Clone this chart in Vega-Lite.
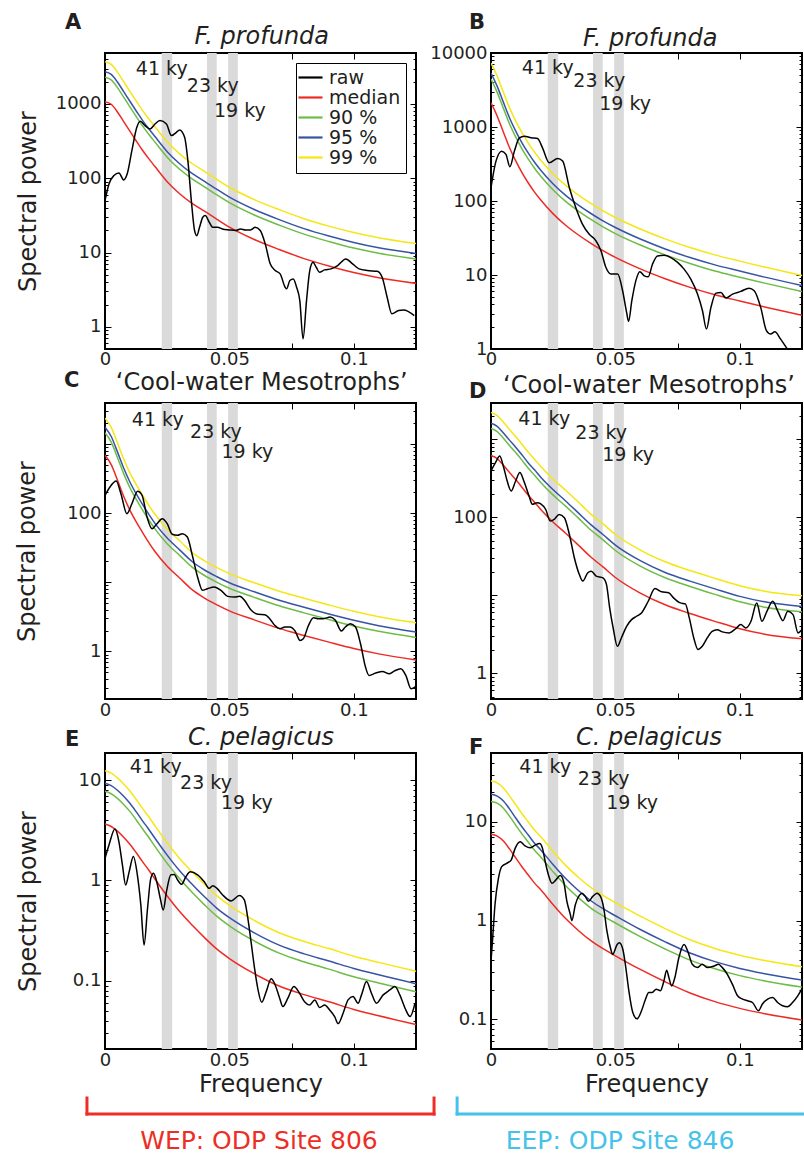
{
"$schema": "https://vega.github.io/schema/vega-lite/v6.json",
"padding": {"left": 14, "top": 11, "right": 0, "bottom": 0},
"config": {
  "font": "DejaVu Sans",
  "view": {"stroke": "black", "strokeWidth": 2},
  "axis": {"labelFont": "DejaVu Sans", "labelFontSize": 18, "labelColor": "#231f20", "titleFont": "DejaVu Sans", "titleFontSize": 24, "titleFontWeight": "normal", "titleColor": "#231f20", "domain": false, "grid": false, "tickColor": "black", "tickWidth": 1, "labelFlush": false, "labelOverlap": false, "format": "~g"},
  "legend": {"labelFont": "DejaVu Sans", "rowPadding": -4, "symbolLimit": 0}
},
"datasets": {
  "bands": [{"start": 0.0228, "end": 0.0270}, {"start": 0.0410, "end": 0.0449}, {"start": 0.0495, "end": 0.0534}],
  "ky": [
    {"panel": "A", "label": "41 ky", "f": 0.0228, "p": 2930}, {"panel": "A", "label": "23 ky", "f": 0.0433, "p": 1770}, {"panel": "A", "label": "19 ky", "f": 0.0542, "p": 805},
    {"panel": "B", "label": "41 ky", "f": 0.0228, "p": 6290}, {"panel": "B", "label": "23 ky", "f": 0.0435, "p": 4150}, {"panel": "B", "label": "19 ky", "f": 0.0539, "p": 2050},
    {"panel": "C", "label": "41 ky", "f": 0.0212, "p": 2190}, {"panel": "C", "label": "23 ky", "f": 0.0446, "p": 1480}, {"panel": "C", "label": "19 ky", "f": 0.0572, "p": 762},
    {"panel": "D", "label": "41 ky", "f": 0.0214, "p": 1800}, {"panel": "D", "label": "23 ky", "f": 0.0443, "p": 1210}, {"panel": "D", "label": "19 ky", "f": 0.0551, "p": 627},
    {"panel": "E", "label": "41 ky", "f": 0.0204, "p": 13.6}, {"panel": "E", "label": "23 ky", "f": 0.0406, "p": 9.27}, {"panel": "E", "label": "19 ky", "f": 0.0570, "p": 5.86},
    {"panel": "F", "label": "41 ky", "f": 0.0218, "p": 35.8}, {"panel": "F", "label": "23 ky", "f": 0.0453, "p": 27.3}, {"panel": "F", "label": "19 ky", "f": 0.0567, "p": 15.5}
  ],
  "A": [
    {"f":0,"median":1075,"90 %":2290,"95 %":2720,"99 %":3698},{"f":0.0025,"median":990,"90 %":2109,"95 %":2505,"99 %":3406},{"f":0.005,"median":780,"90 %":1661,"95 %":1973,"99 %":2683},{"f":0.0075,"median":580,"90 %":1235,"95 %":1467,"99 %":1995},{"f":0.01,"median":430,"90 %":916,"95 %":1088,"99 %":1479},{"f":0.0125,"median":320,"90 %":682,"95 %":810,"99 %":1101},{"f":0.015,"median":240,"90 %":511,"95 %":607,"99 %":826},{"f":0.0175,"median":185,"90 %":394,"95 %":468,"99 %":636},{"f":0.02,"median":145,"90 %":309,"95 %":367,"99 %":499},{"f":0.025,"median":90,"90 %":192,"95 %":228,"99 %":310},{"f":0.03,"median":62,"90 %":132,"95 %":157,"99 %":213},{"f":0.035,"median":46,"90 %":98,"95 %":116,"99 %":158},{"f":0.04,"median":36,"90 %":76.7,"95 %":91.1,"99 %":124},{"f":0.045,"median":28,"90 %":59.6,"95 %":70.8,"99 %":96.3},{"f":0.05,"median":22,"90 %":46.9,"95 %":55.7,"99 %":75.7},{"f":0.06,"median":15,"90 %":32,"95 %":38,"99 %":51.6},{"f":0.07,"median":11,"90 %":23.4,"95 %":27.8,"99 %":37.8},{"f":0.08,"median":8.3,"90 %":17.7,"95 %":21,"99 %":28.6},{"f":0.09,"median":6.6,"90 %":14.1,"95 %":16.7,"99 %":22.7},{"f":0.1,"median":5.4,"90 %":11.5,"95 %":13.7,"99 %":18.6},{"f":0.11,"median":4.6,"90 %":9.8,"95 %":11.6,"99 %":15.8},{"f":0.125,"median":3.85,"90 %":8.2,"95 %":9.74,"99 %":13.2},
    {"f":0,"raw":50.1},{"f":0.0016,"raw":84},{"f":0.0036,"raw":109},{"f":0.0056,"raw":118},{"f":0.0075,"raw":95},{"f":0.0089,"raw":114},{"f":0.0108,"raw":236},{"f":0.0128,"raw":486},{"f":0.0142,"raw":585},{"f":0.0161,"raw":511},{"f":0.0181,"raw":461},{"f":0.0201,"raw":538},{"f":0.0221,"raw":597},{"f":0.0247,"raw":538},{"f":0.0267,"raw":375},{"f":0.0287,"raw":416},{"f":0.03,"raw":447},{"f":0.032,"raw":356},{"f":0.0333,"raw":173},{"f":0.0347,"raw":50.1},{"f":0.036,"raw":19.8},{"f":0.0369,"raw":16.9},{"f":0.038,"raw":21.9},{"f":0.0393,"raw":29.9},{"f":0.0403,"raw":31.5},{"f":0.0419,"raw":25.6},{"f":0.0433,"raw":21.9},{"f":0.0452,"raw":21.9},{"f":0.0472,"raw":20.8},{"f":0.0499,"raw":20.2},{"f":0.0525,"raw":19.8},{"f":0.0545,"raw":20.8},{"f":0.0565,"raw":20.2},{"f":0.0585,"raw":20.2},{"f":0.0604,"raw":21.9},{"f":0.0624,"raw":19.8},{"f":0.0644,"raw":13.1},{"f":0.0664,"raw":7.05},{"f":0.0684,"raw":5.73},{"f":0.0704,"raw":5.17},{"f":0.0724,"raw":3.42},{"f":0.073,"raw":3.25},{"f":0.0743,"raw":4.2},{"f":0.0757,"raw":4.42},{"f":0.077,"raw":3.42},{"f":0.0783,"raw":2.26},{"f":0.0796,"raw":0.69},{"f":0.081,"raw":2.26},{"f":0.0823,"raw":5.73},{"f":0.0836,"raw":7.41},{"f":0.0849,"raw":6.35},{"f":0.0862,"raw":5.43},{"f":0.0882,"raw":5.85},{"f":0.0909,"raw":6.03},{"f":0.0935,"raw":6.68},{"f":0.0968,"raw":8.22},{"f":0.0995,"raw":7.05},{"f":0.1021,"raw":6.03},{"f":0.1054,"raw":5.73},{"f":0.1094,"raw":5.61},{"f":0.1114,"raw":4.66},{"f":0.1134,"raw":2.51},{"f":0.1153,"raw":1.5},{"f":0.118,"raw":1.66},{"f":0.12,"raw":1.69},{"f":0.1243,"raw":1.42}
  ],
  "B": [
    {"f":0,"median":2120,"90 %":4452,"95 %":5364,"99 %":7335},{"f":0.0025,"median":1400,"90 %":2940,"95 %":3542,"99 %":4844},{"f":0.005,"median":850,"90 %":1785,"95 %":2151,"99 %":2941},{"f":0.0075,"median":520,"90 %":1092,"95 %":1316,"99 %":1799},{"f":0.01,"median":345,"90 %":725,"95 %":873,"99 %":1194},{"f":0.0125,"median":240,"90 %":504,"95 %":607,"99 %":830},{"f":0.015,"median":175,"90 %":368,"95 %":443,"99 %":606},{"f":0.0175,"median":132,"90 %":277,"95 %":334,"99 %":457},{"f":0.02,"median":103,"90 %":216,"95 %":261,"99 %":356},{"f":0.025,"median":67,"90 %":141,"95 %":170,"99 %":232},{"f":0.03,"median":47,"90 %":98.7,"95 %":119,"99 %":163},{"f":0.035,"median":35,"90 %":73.5,"95 %":88.6,"99 %":121},{"f":0.04,"median":27,"90 %":56.7,"95 %":68.3,"99 %":93.4},{"f":0.045,"median":21.3,"90 %":44.7,"95 %":53.9,"99 %":73.7},{"f":0.05,"median":17.3,"90 %":36.3,"95 %":43.8,"99 %":59.9},{"f":0.06,"median":12.1,"90 %":25.4,"95 %":30.6,"99 %":41.9},{"f":0.07,"median":8.9,"90 %":18.7,"95 %":22.5,"99 %":30.8},{"f":0.08,"median":6.8,"90 %":14.3,"95 %":17.2,"99 %":23.5},{"f":0.09,"median":5.4,"90 %":11.3,"95 %":13.7,"99 %":18.7},{"f":0.1,"median":4.45,"90 %":9.35,"95 %":11.3,"99 %":15.4},{"f":0.11,"median":3.7,"90 %":7.77,"95 %":9.36,"99 %":12.8},{"f":0.125,"median":2.85,"90 %":5.99,"95 %":7.21,"99 %":9.86},
    {"f":0,"raw":151},{"f":0.002,"raw":346},{"f":0.0043,"raw":472},{"f":0.006,"raw":426},{"f":0.0076,"raw":290},{"f":0.0094,"raw":472},{"f":0.0114,"raw":714},{"f":0.0134,"raw":752},{"f":0.0161,"raw":714},{"f":0.0187,"raw":700},{"f":0.0207,"raw":523},{"f":0.0234,"raw":329},{"f":0.0268,"raw":376},{"f":0.0288,"raw":346},{"f":0.0315,"raw":151},{"f":0.0341,"raw":81.3},{"f":0.0368,"raw":48.4},{"f":0.0395,"raw":35.5},{"f":0.0422,"raw":28.9},{"f":0.0442,"raw":21.2},{"f":0.0462,"raw":12.6},{"f":0.0482,"raw":10.3},{"f":0.0509,"raw":10.3},{"f":0.0529,"raw":6.12},{"f":0.0545,"raw":3.12},{"f":0.0553,"raw":2.36},{"f":0.0566,"raw":4.49},{"f":0.0582,"raw":8.34},{"f":0.0598,"raw":11.1},{"f":0.0616,"raw":9.75},{"f":0.0632,"raw":9.44},{"f":0.0649,"raw":14},{"f":0.0669,"raw":18.1},{"f":0.0696,"raw":18.5},{"f":0.0723,"raw":17.2},{"f":0.075,"raw":14.8},{"f":0.0776,"raw":12},{"f":0.0803,"raw":8.79},{"f":0.083,"raw":5.52},{"f":0.085,"raw":3.29},{"f":0.0866,"raw":1.86},{"f":0.0884,"raw":3.65},{"f":0.0904,"raw":5.69},{"f":0.0924,"raw":5.81},{"f":0.0944,"raw":4.88},{"f":0.0971,"raw":5.52},{"f":0.1004,"raw":6},{"f":0.1037,"raw":6.64},{"f":0.1058,"raw":6.12},{"f":0.1084,"raw":3.65},{"f":0.1107,"raw":1.77},{"f":0.1124,"raw":1.59},{"f":0.1141,"raw":1.71},{"f":0.1164,"raw":1.36},{"f":0.1191,"raw":1},{"f":0.1218,"raw":0.73},{"f":0.125,"raw":0.55}
  ],
  "C": [
    {"f":0,"median":682,"90 %":1446,"95 %":1739,"99 %":2353},{"f":0.0025,"median":500,"90 %":1060,"95 %":1275,"99 %":1725},{"f":0.005,"median":300,"90 %":636,"95 %":765,"99 %":1035},{"f":0.0075,"median":175,"90 %":371,"95 %":446,"99 %":604},{"f":0.01,"median":110,"90 %":233,"95 %":281,"99 %":380},{"f":0.0125,"median":75,"90 %":159,"95 %":191,"99 %":259},{"f":0.015,"median":53,"90 %":112,"95 %":135,"99 %":183},{"f":0.0175,"median":38,"90 %":80.6,"95 %":96.9,"99 %":131},{"f":0.02,"median":28,"90 %":59.4,"95 %":71.4,"99 %":96.6},{"f":0.025,"median":17,"90 %":36,"95 %":43.4,"99 %":58.7},{"f":0.03,"median":11.5,"90 %":24.4,"95 %":29.3,"99 %":39.7},{"f":0.035,"median":7.8,"90 %":16.5,"95 %":19.9,"99 %":26.9},{"f":0.04,"median":5.9,"90 %":12.5,"95 %":15,"99 %":20.4},{"f":0.045,"median":4.7,"90 %":9.96,"95 %":12,"99 %":16.2},{"f":0.05,"median":3.85,"90 %":8.16,"95 %":9.82,"99 %":13.3},{"f":0.06,"median":2.85,"90 %":6.04,"95 %":7.27,"99 %":9.83},{"f":0.07,"median":2.15,"90 %":4.56,"95 %":5.48,"99 %":7.42},{"f":0.08,"median":1.7,"90 %":3.6,"95 %":4.34,"99 %":5.87},{"f":0.09,"median":1.36,"90 %":2.88,"95 %":3.47,"99 %":4.69},{"f":0.1,"median":1.1,"90 %":2.33,"95 %":2.81,"99 %":3.8},{"f":0.11,"median":0.92,"90 %":1.95,"95 %":2.35,"99 %":3.17},{"f":0.125,"median":0.75,"90 %":1.59,"95 %":1.91,"99 %":2.59},
    {"f":0,"raw":180},{"f":0.002,"raw":238},{"f":0.0045,"raw":290},{"f":0.0064,"raw":190},{"f":0.0088,"raw":97.8},{"f":0.0108,"raw":136},{"f":0.0131,"raw":206},{"f":0.0149,"raw":180},{"f":0.0169,"raw":87.5},{"f":0.0189,"raw":59.3},{"f":0.0209,"raw":70.1},{"f":0.023,"raw":82.8},{"f":0.025,"raw":70.1},{"f":0.027,"raw":49.2},{"f":0.0291,"raw":47.6},{"f":0.0311,"raw":50.3},{"f":0.0331,"raw":45},{"f":0.0351,"raw":24.4},{"f":0.0372,"raw":11.9},{"f":0.0392,"raw":7.62},{"f":0.0412,"raw":8.05},{"f":0.0439,"raw":8.51},{"f":0.0466,"raw":7.62},{"f":0.0493,"raw":6.24},{"f":0.052,"raw":6.11},{"f":0.0541,"raw":6.24},{"f":0.0561,"raw":5.46},{"f":0.0588,"raw":3.92},{"f":0.0615,"raw":3.43},{"f":0.0642,"raw":3.39},{"f":0.0662,"raw":2.97},{"f":0.0682,"raw":2.38},{"f":0.0703,"raw":2.13},{"f":0.0723,"raw":2.25},{"f":0.0743,"raw":2.25},{"f":0.0764,"raw":1.97},{"f":0.0784,"raw":1.44},{"f":0.0797,"raw":1.52},{"f":0.0818,"raw":2.38},{"f":0.0838,"raw":3.07},{"f":0.0858,"raw":2.97},{"f":0.0878,"raw":2.97},{"f":0.0905,"raw":3.13},{"f":0.0926,"raw":2.81},{"f":0.095,"raw":1.97},{"f":0.0966,"raw":2.25},{"f":0.0986,"raw":2.51},{"f":0.1007,"raw":2.25},{"f":0.1027,"raw":1.29},{"f":0.1047,"raw":0.593},{"f":0.1061,"raw":0.45},{"f":0.1088,"raw":0.486},{"f":0.1115,"raw":0.514},{"f":0.1142,"raw":0.475},{"f":0.1162,"raw":0.519},{"f":0.1189,"raw":0.561},{"f":0.1209,"raw":0.45},{"f":0.123,"raw":0.288},{"f":0.125,"raw":0.312}
  ],
  "D": [
    {"f":0,"median":615,"90 %":1365,"95 %":1599,"99 %":2189},{"f":0.0025,"median":560,"90 %":1243,"95 %":1456,"99 %":1994},{"f":0.005,"median":460,"90 %":1021,"95 %":1196,"99 %":1638},{"f":0.0075,"median":370,"90 %":821,"95 %":962,"99 %":1317},{"f":0.01,"median":300,"90 %":666,"95 %":780,"99 %":1068},{"f":0.0125,"median":240,"90 %":533,"95 %":624,"99 %":854},{"f":0.015,"median":190,"90 %":422,"95 %":494,"99 %":676},{"f":0.0175,"median":155,"90 %":344,"95 %":403,"99 %":552},{"f":0.02,"median":125,"90 %":278,"95 %":325,"99 %":445},{"f":0.025,"median":86,"90 %":191,"95 %":224,"99 %":306},{"f":0.03,"median":62,"90 %":138,"95 %":161,"99 %":221},{"f":0.035,"median":44,"90 %":97.7,"95 %":114,"99 %":157},{"f":0.04,"median":31,"90 %":68.8,"95 %":80.6,"99 %":110},{"f":0.045,"median":23,"90 %":51.1,"95 %":59.8,"99 %":81.9},{"f":0.05,"median":16.8,"90 %":37.3,"95 %":43.7,"99 %":59.8},{"f":0.06,"median":10.6,"90 %":23.5,"95 %":27.6,"99 %":37.7},{"f":0.07,"median":7.5,"90 %":16.7,"95 %":19.5,"99 %":26.7},{"f":0.08,"median":5.8,"90 %":12.9,"95 %":15.1,"99 %":20.6},{"f":0.09,"median":4.6,"90 %":10.2,"95 %":12,"99 %":16.4},{"f":0.1,"median":3.7,"90 %":8.21,"95 %":9.62,"99 %":13.2},{"f":0.11,"median":3.15,"90 %":6.99,"95 %":8.19,"99 %":11.2},{"f":0.125,"median":2.75,"90 %":6.11,"95 %":7.15,"99 %":9.79},
    {"f":0,"raw":390},{"f":0.0018,"raw":499},{"f":0.0035,"raw":608},{"f":0.0051,"raw":431},{"f":0.0065,"raw":290},{"f":0.0081,"raw":216},{"f":0.0099,"raw":290},{"f":0.0116,"raw":372},{"f":0.0132,"raw":290},{"f":0.0153,"raw":186},{"f":0.0166,"raw":146},{"f":0.0186,"raw":153},{"f":0.02,"raw":148},{"f":0.022,"raw":125},{"f":0.0238,"raw":88.9},{"f":0.0254,"raw":93.4},{"f":0.0274,"raw":108},{"f":0.0295,"raw":98},{"f":0.0315,"raw":59.8},{"f":0.0335,"raw":30.1},{"f":0.0355,"raw":18.3},{"f":0.0369,"raw":15.1},{"f":0.0389,"raw":19.3},{"f":0.0403,"raw":20.2},{"f":0.0423,"raw":17.5},{"f":0.045,"raw":16.6},{"f":0.0464,"raw":13.7},{"f":0.0477,"raw":6.84},{"f":0.0491,"raw":3.78},{"f":0.0508,"raw":2.2},{"f":0.0524,"raw":2.82},{"f":0.0545,"raw":3.98},{"f":0.0565,"raw":4.84},{"f":0.0585,"raw":5.35},{"f":0.0605,"raw":5.9},{"f":0.0632,"raw":8.33},{"f":0.0659,"raw":12.1},{"f":0.0686,"raw":11},{"f":0.0714,"raw":10.7},{"f":0.0734,"raw":9.2},{"f":0.0761,"raw":7.93},{"f":0.0781,"raw":7.71},{"f":0.0797,"raw":5.09},{"f":0.0815,"raw":2.82},{"f":0.0832,"raw":2},{"f":0.0849,"raw":2.2},{"f":0.0869,"raw":2.82},{"f":0.0889,"raw":3.43},{"f":0.0909,"raw":3.6},{"f":0.093,"raw":3.37},{"f":0.0957,"raw":3.27},{"f":0.0984,"raw":3.72},{"f":0.1004,"raw":4.18},{"f":0.1024,"raw":3.79},{"f":0.1045,"raw":4.61},{"f":0.1068,"raw":7.93},{"f":0.1089,"raw":4.61},{"f":0.1109,"raw":6.19},{"f":0.1132,"raw":8.34},{"f":0.1153,"raw":6.19},{"f":0.1173,"raw":4.7},{"f":0.1193,"raw":6.19},{"f":0.1214,"raw":5.61},{"f":0.1234,"raw":3.27},{"f":0.125,"raw":3.61}
  ],
  "E": [
    {"f":0,"median":3.65,"90 %":7.74,"95 %":9.31,"99 %":12.4},{"f":0.0025,"median":3.45,"90 %":7.31,"95 %":8.8,"99 %":11.7},{"f":0.005,"median":3.1,"90 %":6.57,"95 %":7.91,"99 %":10.5},{"f":0.0075,"median":2.7,"90 %":5.72,"95 %":6.89,"99 %":9.15},{"f":0.01,"median":2.3,"90 %":4.88,"95 %":5.87,"99 %":7.8},{"f":0.0125,"median":1.9,"90 %":4.03,"95 %":4.85,"99 %":6.44},{"f":0.015,"median":1.55,"90 %":3.29,"95 %":3.95,"99 %":5.25},{"f":0.0175,"median":1.28,"90 %":2.71,"95 %":3.26,"99 %":4.34},{"f":0.02,"median":1.04,"90 %":2.2,"95 %":2.65,"99 %":3.53},{"f":0.025,"median":0.7,"90 %":1.48,"95 %":1.79,"99 %":2.37},{"f":0.03,"median":0.49,"90 %":1.04,"95 %":1.25,"99 %":1.66},{"f":0.035,"median":0.36,"90 %":0.763,"95 %":0.918,"99 %":1.22},{"f":0.04,"median":0.27,"90 %":0.572,"95 %":0.689,"99 %":0.915},{"f":0.045,"median":0.207,"90 %":0.439,"95 %":0.528,"99 %":0.702},{"f":0.05,"median":0.167,"90 %":0.354,"95 %":0.426,"99 %":0.566},{"f":0.06,"median":0.118,"90 %":0.25,"95 %":0.301,"99 %":0.4},{"f":0.07,"median":0.089,"90 %":0.189,"95 %":0.227,"99 %":0.302},{"f":0.08,"median":0.073,"90 %":0.155,"95 %":0.186,"99 %":0.247},{"f":0.09,"median":0.062,"90 %":0.131,"95 %":0.158,"99 %":0.21},{"f":0.1,"median":0.052,"90 %":0.11,"95 %":0.133,"99 %":0.176},{"f":0.11,"median":0.045,"90 %":0.0954,"95 %":0.115,"99 %":0.153},{"f":0.125,"median":0.0368,"90 %":0.078,"95 %":0.0938,"99 %":0.125},
    {"f":0,"raw":1.66},{"f":0.0016,"raw":2.26},{"f":0.004,"raw":3.25},{"f":0.0056,"raw":2.43},{"f":0.007,"raw":1.43},{"f":0.0083,"raw":0.902},{"f":0.0097,"raw":1.22},{"f":0.0114,"raw":1.73},{"f":0.013,"raw":1.14},{"f":0.0144,"raw":0.571},{"f":0.0157,"raw":0.228},{"f":0.0171,"raw":0.529},{"f":0.0184,"raw":1.05},{"f":0.0195,"raw":1.18},{"f":0.0208,"raw":0.973},{"f":0.0222,"raw":0.665},{"f":0.0234,"raw":0.508},{"f":0.0247,"raw":0.774},{"f":0.0265,"raw":1.14},{"f":0.0278,"raw":1.15},{"f":0.0292,"raw":1.01},{"f":0.0308,"raw":0.916},{"f":0.0325,"raw":1.09},{"f":0.0343,"raw":1.22},{"f":0.0372,"raw":1.14},{"f":0.0399,"raw":0.973},{"f":0.0419,"raw":0.835},{"f":0.0433,"raw":0.889},{"f":0.045,"raw":0.835},{"f":0.0473,"raw":0.718},{"f":0.0507,"raw":0.625},{"f":0.054,"raw":0.707},{"f":0.056,"raw":0.64},{"f":0.0574,"raw":0.421},{"f":0.0587,"raw":0.246},{"f":0.0601,"raw":0.134},{"f":0.0614,"raw":0.0845},{"f":0.063,"raw":0.0613},{"f":0.0648,"raw":0.0783},{"f":0.0668,"raw":0.105},{"f":0.0684,"raw":0.0912},{"f":0.0702,"raw":0.0673},{"f":0.0715,"raw":0.0556},{"f":0.0735,"raw":0.0673},{"f":0.0759,"raw":0.0879},{"f":0.0782,"raw":0.0754},{"f":0.0802,"raw":0.0622},{"f":0.0823,"raw":0.0577},{"f":0.0843,"raw":0.0647},{"f":0.0863,"raw":0.0543},{"f":0.0883,"raw":0.0577},{"f":0.0903,"raw":0.0514},{"f":0.0923,"raw":0.0442},{"f":0.0937,"raw":0.0376},{"f":0.0957,"raw":0.0477},{"f":0.0977,"raw":0.0647},{"f":0.0997,"raw":0.0698},{"f":0.1017,"raw":0.06},{"f":0.1031,"raw":0.0726},{"f":0.1051,"raw":0.0985},{"f":0.1071,"raw":0.0754},{"f":0.1091,"raw":0.06},{"f":0.1118,"raw":0.0726},{"f":0.1145,"raw":0.0813},{"f":0.1165,"raw":0.0879},{"f":0.1185,"raw":0.0726},{"f":0.1206,"raw":0.0535},{"f":0.1226,"raw":0.0442},{"f":0.1246,"raw":0.06}
  ],
  "F": [
    {"f":0,"median":7.5,"90 %":16.1,"95 %":19.1,"99 %":26},{"f":0.0025,"median":7.2,"90 %":15.5,"95 %":18.3,"99 %":24.9},{"f":0.005,"median":6.4,"90 %":13.8,"95 %":16.3,"99 %":22.1},{"f":0.0075,"median":5.3,"90 %":11.4,"95 %":13.5,"99 %":18.3},{"f":0.01,"median":4.3,"90 %":9.25,"95 %":10.9,"99 %":14.9},{"f":0.0125,"median":3.5,"90 %":7.53,"95 %":8.89,"99 %":12.1},{"f":0.015,"median":2.9,"90 %":6.24,"95 %":7.37,"99 %":10},{"f":0.0175,"median":2.4,"90 %":5.16,"95 %":6.1,"99 %":8.3},{"f":0.02,"median":2.05,"90 %":4.41,"95 %":5.21,"99 %":7.09},{"f":0.025,"median":1.45,"90 %":3.12,"95 %":3.68,"99 %":5.02},{"f":0.03,"median":1.05,"90 %":2.26,"95 %":2.67,"99 %":3.63},{"f":0.035,"median":0.8,"90 %":1.72,"95 %":2.03,"99 %":2.77},{"f":0.04,"median":0.63,"90 %":1.35,"95 %":1.6,"99 %":2.18},{"f":0.045,"median":0.52,"90 %":1.12,"95 %":1.32,"99 %":1.8},{"f":0.05,"median":0.44,"90 %":0.946,"95 %":1.12,"99 %":1.52},{"f":0.06,"median":0.32,"90 %":0.688,"95 %":0.813,"99 %":1.11},{"f":0.07,"median":0.24,"90 %":0.516,"95 %":0.61,"99 %":0.83},{"f":0.08,"median":0.185,"90 %":0.398,"95 %":0.47,"99 %":0.64},{"f":0.09,"median":0.151,"90 %":0.325,"95 %":0.384,"99 %":0.522},{"f":0.1,"median":0.129,"90 %":0.277,"95 %":0.328,"99 %":0.446},{"f":0.11,"median":0.114,"90 %":0.245,"95 %":0.29,"99 %":0.394},{"f":0.125,"median":0.0985,"90 %":0.212,"95 %":0.25,"99 %":0.341},
    {"f":0,"raw":0.39},{"f":0.0005,"raw":0.573},{"f":0.0016,"raw":1.45},{"f":0.003,"raw":2.69},{"f":0.0043,"raw":3.53},{"f":0.0063,"raw":3.81},{"f":0.0081,"raw":4.11},{"f":0.0097,"raw":5.4},{"f":0.0117,"raw":6.3},{"f":0.0137,"raw":5.73},{"f":0.0157,"raw":5.47},{"f":0.0177,"raw":5.82},{"f":0.0195,"raw":6.05},{"f":0.0207,"raw":5.4},{"f":0.0218,"raw":3.95},{"f":0.0231,"raw":2.9},{"f":0.0245,"raw":2.39},{"f":0.0261,"raw":2.59},{"f":0.0278,"raw":2.86},{"f":0.0292,"raw":2.49},{"f":0.0305,"raw":1.57},{"f":0.0319,"raw":1.15},{"f":0.0325,"raw":1},{"f":0.0339,"raw":1.45},{"f":0.0355,"raw":1.8},{"f":0.0366,"raw":1.9},{"f":0.0379,"raw":1.76},{"f":0.0392,"raw":1.57},{"f":0.0409,"raw":1.76},{"f":0.0426,"raw":1.9},{"f":0.044,"raw":1.76},{"f":0.0453,"raw":1.34},{"f":0.0466,"raw":0.782},{"f":0.048,"raw":0.531},{"f":0.0489,"raw":0.455},{"f":0.0507,"raw":0.573},{"f":0.0516,"raw":0.596},{"f":0.053,"raw":0.51},{"f":0.054,"raw":0.361},{"f":0.0554,"raw":0.195},{"f":0.057,"raw":0.117},{"f":0.0587,"raw":0.101},{"f":0.0605,"raw":0.122},{"f":0.0621,"raw":0.16},{"f":0.0634,"raw":0.187},{"f":0.0648,"raw":0.187},{"f":0.0664,"raw":0.202},{"f":0.0681,"raw":0.195},{"f":0.0695,"raw":0.245},{"f":0.0706,"raw":0.314},{"f":0.0715,"raw":0.265},{"f":0.0726,"raw":0.218},{"f":0.0739,"raw":0.265},{"f":0.0755,"raw":0.421},{"f":0.0776,"raw":0.573},{"f":0.0793,"raw":0.472},{"f":0.0809,"raw":0.361},{"f":0.0829,"raw":0.334},{"f":0.0849,"raw":0.361},{"f":0.087,"raw":0.334},{"f":0.0897,"raw":0.347},{"f":0.0914,"raw":0.361},{"f":0.093,"raw":0.334},{"f":0.095,"raw":0.286},{"f":0.097,"raw":0.227},{"f":0.0991,"raw":0.173},{"f":0.1011,"raw":0.16},{"f":0.1031,"raw":0.154},{"f":0.1051,"raw":0.148},{"f":0.1075,"raw":0.122},{"f":0.1091,"raw":0.143},{"f":0.1112,"raw":0.16},{"f":0.1132,"raw":0.166},{"f":0.1152,"raw":0.148},{"f":0.1172,"raw":0.137},{"f":0.1192,"raw":0.134},{"f":0.1212,"raw":0.148},{"f":0.1233,"raw":0.173},{"f":0.1249,"raw":0.202}
  ]
},
"columns": 2,
"spacing": {"row": 54, "column": 75},
"bounds": "flush",
"resolve": {"scale": {"color": "independent"}},
"concat": [
    {"width": 311, "height": 296, "resolve": {"axis": {"x": "independent", "y": "independent"}},
     "layer": [
      {"data": {"name": "bands"}, "mark": {"type": "rect", "color": "#dadada"},
       "encoding": {"x": {"field": "start", "type": "quantitative", "scale": {"domain": [0, 0.125], "nice": false, "zero": false}, "axis": {"orient": "top", "values": [0, 0.025, 0.05, 0.075, 0.1], "labels": false, "tickSize": -6, "title": null}}, "x2": {"field": "end"}}},
      {"data": {"name": "A"}, "transform": [{"fold": ["median", "90 %", "95 %", "99 %"], "as": ["series", "p"]}, {"filter": "datum.p != null"}],
       "mark": {"type": "line", "strokeWidth": 1.5, "interpolate": "monotone", "clip": true},
       "encoding": {
         "x": {"field": "f", "type": "quantitative", "axis": {"values": [0, 0.025, 0.05, 0.075, 0.1], "tickSize": -6, "labelPadding": 7, "labelExpr": "datum.value == 0.025 || datum.value == 0.075 ? '' : datum.label", "title": null}},
         "y": {"field": "p", "type": "quantitative", "scale": {"type": "log", "domain": [0.504, 4850], "nice": false}, "axis": {"values": [0.6,0.7,0.8,0.9,1,2,3,4,5,6,7,8,9,10,20,30,40,50,60,70,80,90,100,200,300,400,500,600,700,800,900,1000,2000,3000,4000], "tickSize": {"condition": {"test": "abs(log(datum.value)/LN10 - round(log(datum.value)/LN10)) < 0.000001", "value": -6}, "value": -3}, "labelPadding": 10, "labelExpr": "abs(log(datum.value)/LN10 - round(log(datum.value)/LN10)) < 0.000001 ? datum.label : ''", "title": "Spectral power", "titlePadding": 15}},
         "color": {"field": "series", "type": "nominal", "scale": {"domain": ["raw", "median", "90 %", "95 %", "99 %"], "range": ["#000000", "#ee2a24", "#6cbd45", "#3853a4", "#f5e614"]},
           "legend": {"orient": "top-right", "offset": 10, "title": null, "padding": 5, "strokeColor": "black", "fillColor": "white", "symbolType": "M-1.7,0L1.7,0", "symbolSize": 200, "symbolStrokeWidth": 2.2, "labelFontSize": 19, "labelColor": "#231f20", "rowPadding": -4, "labelOffset": 9}}}},
      {"data": {"name": "A"}, "transform": [{"filter": "datum.raw != null"}],
       "mark": {"type": "line", "strokeWidth": 1.5, "interpolate": "monotone", "clip": true},
       "encoding": {"x": {"field": "f", "type": "quantitative", "axis": null}, "y": {"field": "raw", "type": "quantitative", "axis": null}, "color": {"datum": "raw", "type": "nominal"}}},
      {"data": {"name": "ky"}, "transform": [{"filter": "datum.panel == 'A'"}],
       "mark": {"type": "text", "fontSize": 19, "color": "#231f20", "align": "center", "baseline": "middle"},
       "encoding": {"x": {"field": "f", "type": "quantitative", "axis": null}, "y": {"field": "p", "type": "quantitative", "axis": {"orient": "right", "values": [0.6,0.7,0.8,0.9,1,2,3,4,5,6,7,8,9,10,20,30,40,50,60,70,80,90,100,200,300,400,500,600,700,800,900,1000,2000,3000,4000], "tickSize": {"condition": {"test": "abs(log(datum.value)/LN10 - round(log(datum.value)/LN10)) < 0.000001", "value": -6}, "value": -3}, "labels": false, "title": null}}, "text": {"field": "label"}}},
      {"data": {"values": [{"t": "A"}]}, "mark": {"type": "text", "fontSize": 21, "fontWeight": "bold", "align": "left", "baseline": "alphabetic", "color": "#231f20"},
       "encoding": {"x": {"datum": -0.0161, "type": "quantitative", "axis": null}, "y": {"datum": 10200, "type": "quantitative", "axis": null}, "text": {"field": "t"}}},
      {"data": {"values": [{"t": "F. profunda"}]}, "mark": {"type": "text", "fontSize": 24, "fontStyle": "italic", "align": "center", "baseline": "alphabetic", "color": "#231f20"},
       "encoding": {"x": {"datum": 0.063, "type": "quantitative", "axis": null}, "y": {"datum": 6410, "type": "quantitative", "axis": null}, "text": {"field": "t"}}}
     ]},
    {"width": 311, "height": 296, "resolve": {"axis": {"x": "independent", "y": "independent"}},
     "layer": [
      {"data": {"name": "bands"}, "mark": {"type": "rect", "color": "#dadada"},
       "encoding": {"x": {"field": "start", "type": "quantitative", "scale": {"domain": [0, 0.125], "nice": false, "zero": false}, "axis": {"orient": "top", "values": [0, 0.025, 0.05, 0.075, 0.1], "labels": false, "tickSize": -6, "title": null}}, "x2": {"field": "end"}}},
      {"data": {"name": "B"}, "transform": [{"fold": ["median", "90 %", "95 %", "99 %"], "as": ["series", "p"]}, {"filter": "datum.p != null"}],
       "mark": {"type": "line", "strokeWidth": 1.5, "interpolate": "monotone", "clip": true},
       "encoding": {
         "x": {"field": "f", "type": "quantitative", "axis": {"values": [0, 0.025, 0.05, 0.075, 0.1], "tickSize": -6, "labelPadding": 7, "labelExpr": "datum.value == 0.025 || datum.value == 0.075 ? '' : datum.label", "title": null}},
         "y": {"field": "p", "type": "quantitative", "scale": {"type": "log", "domain": [1, 10000], "nice": false}, "axis": {"values": [1,2,3,4,5,6,7,8,9,10,20,30,40,50,60,70,80,90,100,200,300,400,500,600,700,800,900,1000,2000,3000,4000,5000,6000,7000,8000,9000,10000], "tickSize": {"condition": {"test": "abs(log(datum.value)/LN10 - round(log(datum.value)/LN10)) < 0.000001", "value": -6}, "value": -3}, "labelPadding": 10, "labelExpr": "abs(log(datum.value)/LN10 - round(log(datum.value)/LN10)) < 0.000001 ? datum.label : ''", "title": null}},
         "color": {"field": "series", "type": "nominal", "scale": {"domain": ["raw", "median", "90 %", "95 %", "99 %"], "range": ["#000000", "#ee2a24", "#6cbd45", "#3853a4", "#f5e614"]}, "legend": null}}},
      {"data": {"name": "B"}, "transform": [{"filter": "datum.raw != null"}],
       "mark": {"type": "line", "strokeWidth": 1.5, "interpolate": "monotone", "clip": true},
       "encoding": {"x": {"field": "f", "type": "quantitative", "axis": null}, "y": {"field": "raw", "type": "quantitative", "axis": null}, "color": {"datum": "raw", "type": "nominal", "legend": null}}},
      {"data": {"name": "ky"}, "transform": [{"filter": "datum.panel == 'B'"}],
       "mark": {"type": "text", "fontSize": 19, "color": "#231f20", "align": "center", "baseline": "middle"},
       "encoding": {"x": {"field": "f", "type": "quantitative", "axis": null}, "y": {"field": "p", "type": "quantitative", "axis": {"orient": "right", "values": [1,2,3,4,5,6,7,8,9,10,20,30,40,50,60,70,80,90,100,200,300,400,500,600,700,800,900,1000,2000,3000,4000,5000,6000,7000,8000,9000,10000], "tickSize": {"condition": {"test": "abs(log(datum.value)/LN10 - round(log(datum.value)/LN10)) < 0.000001", "value": -6}, "value": -3}, "labels": false, "title": null}}, "text": {"field": "label"}}},
      {"data": {"values": [{"t": "B"}]}, "mark": {"type": "text", "fontSize": 21, "fontWeight": "bold", "align": "left", "baseline": "alphabetic", "color": "#231f20"},
       "encoding": {"x": {"datum": -0.0088, "type": "quantitative", "axis": null}, "y": {"datum": 21100, "type": "quantitative", "axis": null}, "text": {"field": "t"}}},
      {"data": {"values": [{"t": "F. profunda"}]}, "mark": {"type": "text", "fontSize": 24, "fontStyle": "italic", "align": "center", "baseline": "alphabetic", "color": "#231f20"},
       "encoding": {"x": {"datum": 0.064, "type": "quantitative", "axis": null}, "y": {"datum": 12440, "type": "quantitative", "axis": null}, "text": {"field": "t"}}}
     ]},
    {"width": 311, "height": 296, "resolve": {"axis": {"x": "independent", "y": "independent"}},
     "layer": [
      {"data": {"name": "bands"}, "mark": {"type": "rect", "color": "#dadada"},
       "encoding": {"x": {"field": "start", "type": "quantitative", "scale": {"domain": [0, 0.125], "nice": false, "zero": false}, "axis": {"orient": "top", "values": [0, 0.025, 0.05, 0.075, 0.1], "labels": false, "tickSize": -6, "title": null}}, "x2": {"field": "end"}}},
      {"data": {"name": "C"}, "transform": [{"fold": ["median", "90 %", "95 %", "99 %"], "as": ["series", "p"]}, {"filter": "datum.p != null"}],
       "mark": {"type": "line", "strokeWidth": 1.5, "interpolate": "monotone", "clip": true},
       "encoding": {
         "x": {"field": "f", "type": "quantitative", "axis": {"values": [0, 0.025, 0.05, 0.075, 0.1], "tickSize": -6, "labelPadding": 8, "labelExpr": "datum.value == 0.025 || datum.value == 0.075 ? '' : datum.label", "title": null}},
         "y": {"field": "p", "type": "quantitative", "scale": {"type": "log", "domain": [0.205, 3890], "nice": false}, "axis": {"values": [0.3,0.4,0.5,0.6,0.7,0.8,0.9,1,2,3,4,5,6,7,8,9,10,20,30,40,50,60,70,80,90,100,200,300,400,500,600,700,800,900,1000,2000,3000], "tickSize": {"condition": {"test": "abs(log(datum.value)/LN10 - round(log(datum.value)/LN10)) < 0.000001", "value": -6}, "value": -3}, "labelPadding": 10, "labelExpr": "datum.value == 1 || datum.value == 100 ? datum.label : ''", "title": "Spectral power", "titlePadding": 27}},
         "color": {"field": "series", "type": "nominal", "scale": {"domain": ["raw", "median", "90 %", "95 %", "99 %"], "range": ["#000000", "#ee2a24", "#6cbd45", "#3853a4", "#f5e614"]}, "legend": null}}},
      {"data": {"name": "C"}, "transform": [{"filter": "datum.raw != null"}],
       "mark": {"type": "line", "strokeWidth": 1.5, "interpolate": "monotone", "clip": true},
       "encoding": {"x": {"field": "f", "type": "quantitative", "axis": null}, "y": {"field": "raw", "type": "quantitative", "axis": null}, "color": {"datum": "raw", "type": "nominal", "legend": null}}},
      {"data": {"name": "ky"}, "transform": [{"filter": "datum.panel == 'C'"}],
       "mark": {"type": "text", "fontSize": 19, "color": "#231f20", "align": "center", "baseline": "middle"},
       "encoding": {"x": {"field": "f", "type": "quantitative", "axis": null}, "y": {"field": "p", "type": "quantitative", "axis": {"orient": "right", "values": [0.3,0.4,0.5,0.6,0.7,0.8,0.9,1,2,3,4,5,6,7,8,9,10,20,30,40,50,60,70,80,90,100,200,300,400,500,600,700,800,900,1000,2000,3000], "tickSize": {"condition": {"test": "abs(log(datum.value)/LN10 - round(log(datum.value)/LN10)) < 0.000001", "value": -6}, "value": -3}, "labels": false, "title": null}}, "text": {"field": "label"}}},
      {"data": {"values": [{"t": "C"}]}, "mark": {"type": "text", "fontSize": 21, "fontWeight": "bold", "align": "left", "baseline": "alphabetic", "color": "#231f20"},
       "encoding": {"x": {"datum": -0.0165, "type": "quantitative", "axis": null}, "y": {"datum": 6620, "type": "quantitative", "axis": null}, "text": {"field": "t"}}},
      {"data": {"values": [{"t": "‘Cool-water Mesotrophs’"}]}, "mark": {"type": "text", "fontSize": 24, "align": "center", "baseline": "alphabetic", "color": "#231f20"},
       "encoding": {"x": {"datum": 0.063, "type": "quantitative", "axis": null}, "y": {"datum": 5995, "type": "quantitative", "axis": null}, "text": {"field": "t"}}}
     ]},
    {"width": 311, "height": 296, "resolve": {"axis": {"x": "independent", "y": "independent"}},
     "layer": [
      {"data": {"name": "bands"}, "mark": {"type": "rect", "color": "#dadada"},
       "encoding": {"x": {"field": "start", "type": "quantitative", "scale": {"domain": [0, 0.125], "nice": false, "zero": false}, "axis": {"orient": "top", "values": [0, 0.025, 0.05, 0.075, 0.1], "labels": false, "tickSize": -6, "title": null}}, "x2": {"field": "end"}}},
      {"data": {"name": "D"}, "transform": [{"fold": ["median", "90 %", "95 %", "99 %"], "as": ["series", "p"]}, {"filter": "datum.p != null"}],
       "mark": {"type": "line", "strokeWidth": 1.5, "interpolate": "monotone", "clip": true},
       "encoding": {
         "x": {"field": "f", "type": "quantitative", "axis": {"values": [0, 0.025, 0.05, 0.075, 0.1], "tickSize": -6, "labelPadding": 8, "labelExpr": "datum.value == 0.025 || datum.value == 0.075 ? '' : datum.label", "title": null}},
         "y": {"field": "p", "type": "quantitative", "scale": {"type": "log", "domain": [0.465, 2900], "nice": false}, "axis": {"values": [0.5,0.6,0.7,0.8,0.9,1,2,3,4,5,6,7,8,9,10,20,30,40,50,60,70,80,90,100,200,300,400,500,600,700,800,900,1000,2000], "tickSize": {"condition": {"test": "abs(log(datum.value)/LN10 - round(log(datum.value)/LN10)) < 0.000001", "value": -6}, "value": -3}, "labelPadding": 10, "labelExpr": "datum.value == 1 || datum.value == 100 ? datum.label : ''", "title": null}},
         "color": {"field": "series", "type": "nominal", "scale": {"domain": ["raw", "median", "90 %", "95 %", "99 %"], "range": ["#000000", "#ee2a24", "#6cbd45", "#3853a4", "#f5e614"]}, "legend": null}}},
      {"data": {"name": "D"}, "transform": [{"filter": "datum.raw != null"}],
       "mark": {"type": "line", "strokeWidth": 1.5, "interpolate": "monotone", "clip": true},
       "encoding": {"x": {"field": "f", "type": "quantitative", "axis": null}, "y": {"field": "raw", "type": "quantitative", "axis": null}, "color": {"datum": "raw", "type": "nominal", "legend": null}}},
      {"data": {"name": "ky"}, "transform": [{"filter": "datum.panel == 'D'"}],
       "mark": {"type": "text", "fontSize": 19, "color": "#231f20", "align": "center", "baseline": "middle"},
       "encoding": {"x": {"field": "f", "type": "quantitative", "axis": null}, "y": {"field": "p", "type": "quantitative", "axis": {"orient": "right", "values": [0.5,0.6,0.7,0.8,0.9,1,2,3,4,5,6,7,8,9,10,20,30,40,50,60,70,80,90,100,200,300,400,500,600,700,800,900,1000,2000], "tickSize": {"condition": {"test": "abs(log(datum.value)/LN10 - round(log(datum.value)/LN10)) < 0.000001", "value": -6}, "value": -3}, "labels": false, "title": null}}, "text": {"field": "label"}}},
      {"data": {"values": [{"t": "D"}]}, "mark": {"type": "text", "fontSize": 21, "fontWeight": "bold", "align": "left", "baseline": "alphabetic", "color": "#231f20"},
       "encoding": {"x": {"datum": -0.0088, "type": "quantitative", "axis": null}, "y": {"datum": 3360, "type": "quantitative", "axis": null}, "text": {"field": "t"}}},
      {"data": {"values": [{"t": "‘Cool-water Mesotrophs’"}]}, "mark": {"type": "text", "fontSize": 24, "align": "center", "baseline": "alphabetic", "color": "#231f20"},
       "encoding": {"x": {"datum": 0.0635, "type": "quantitative", "axis": null}, "y": {"datum": 3890, "type": "quantitative", "axis": null}, "text": {"field": "t"}}}
     ]},
    {"width": 311, "height": 296, "resolve": {"axis": {"x": "independent", "y": "independent"}},
     "layer": [
      {"data": {"name": "bands"}, "mark": {"type": "rect", "color": "#dadada"},
       "encoding": {"x": {"field": "start", "type": "quantitative", "scale": {"domain": [0, 0.125], "nice": false, "zero": false}, "axis": {"orient": "top", "values": [0, 0.025, 0.05, 0.075, 0.1], "labels": false, "tickSize": -6, "title": null}}, "x2": {"field": "end"}}},
      {"data": {"name": "E"}, "transform": [{"fold": ["median", "90 %", "95 %", "99 %"], "as": ["series", "p"]}, {"filter": "datum.p != null"}],
       "mark": {"type": "line", "strokeWidth": 1.5, "interpolate": "monotone", "clip": true},
       "encoding": {
         "x": {"field": "f", "type": "quantitative", "axis": {"values": [0, 0.025, 0.05, 0.075, 0.1], "tickSize": -6, "labelPadding": 8, "labelExpr": "datum.value == 0.025 || datum.value == 0.075 ? '' : datum.label", "title": "Frequency", "titlePadding": 3}},
         "y": {"field": "p", "type": "quantitative", "scale": {"type": "log", "domain": [0.021, 18.6], "nice": false}, "axis": {"values": [0.03,0.04,0.05,0.06,0.07,0.08,0.09,0.1,0.2,0.3,0.4,0.5,0.6,0.7,0.8,0.9,1,2,3,4,5,6,7,8,9,10], "tickSize": {"condition": {"test": "abs(log(datum.value)/LN10 - round(log(datum.value)/LN10)) < 0.000001", "value": -6}, "value": -3}, "labelPadding": 10, "labelExpr": "abs(log(datum.value)/LN10 - round(log(datum.value)/LN10)) < 0.000001 ? datum.label : ''", "title": "Spectral power", "titlePadding": 32}},
         "color": {"field": "series", "type": "nominal", "scale": {"domain": ["raw", "median", "90 %", "95 %", "99 %"], "range": ["#000000", "#ee2a24", "#6cbd45", "#3853a4", "#f5e614"]}, "legend": null}}},
      {"data": {"name": "E"}, "transform": [{"filter": "datum.raw != null"}],
       "mark": {"type": "line", "strokeWidth": 1.5, "interpolate": "monotone", "clip": true},
       "encoding": {"x": {"field": "f", "type": "quantitative", "axis": null}, "y": {"field": "raw", "type": "quantitative", "axis": null}, "color": {"datum": "raw", "type": "nominal", "legend": null}}},
      {"data": {"name": "ky"}, "transform": [{"filter": "datum.panel == 'E'"}],
       "mark": {"type": "text", "fontSize": 19, "color": "#231f20", "align": "center", "baseline": "middle"},
       "encoding": {"x": {"field": "f", "type": "quantitative", "axis": null}, "y": {"field": "p", "type": "quantitative", "axis": {"orient": "right", "values": [0.03,0.04,0.05,0.06,0.07,0.08,0.09,0.1,0.2,0.3,0.4,0.5,0.6,0.7,0.8,0.9,1,2,3,4,5,6,7,8,9,10], "tickSize": {"condition": {"test": "abs(log(datum.value)/LN10 - round(log(datum.value)/LN10)) < 0.000001", "value": -6}, "value": -3}, "labels": false, "title": null}}, "text": {"field": "label"}}},
      {"data": {"values": [{"t": "E"}]}, "mark": {"type": "text", "fontSize": 21, "fontWeight": "bold", "align": "left", "baseline": "alphabetic", "color": "#231f20"},
       "encoding": {"x": {"datum": -0.0161, "type": "quantitative", "axis": null}, "y": {"datum": 21.8, "type": "quantitative", "axis": null}, "text": {"field": "t"}}},
      {"data": {"values": [{"t": "C. pelagicus"}]}, "mark": {"type": "text", "fontSize": 24, "fontStyle": "italic", "align": "center", "baseline": "alphabetic", "color": "#231f20"},
       "encoding": {"x": {"datum": 0.0627, "type": "quantitative", "axis": null}, "y": {"datum": 22.3, "type": "quantitative", "axis": null}, "text": {"field": "t"}}}
     ]},
    {"width": 311, "height": 296, "resolve": {"axis": {"x": "independent", "y": "independent"}},
     "layer": [
      {"data": {"name": "bands"}, "mark": {"type": "rect", "color": "#dadada"},
       "encoding": {"x": {"field": "start", "type": "quantitative", "scale": {"domain": [0, 0.125], "nice": false, "zero": false}, "axis": {"orient": "top", "values": [0, 0.025, 0.05, 0.075, 0.1], "labels": false, "tickSize": -6, "title": null}}, "x2": {"field": "end"}}},
      {"data": {"name": "F"}, "transform": [{"fold": ["median", "90 %", "95 %", "99 %"], "as": ["series", "p"]}, {"filter": "datum.p != null"}],
       "mark": {"type": "line", "strokeWidth": 1.5, "interpolate": "monotone", "clip": true},
       "encoding": {
         "x": {"field": "f", "type": "quantitative", "axis": {"values": [0, 0.025, 0.05, 0.075, 0.1], "tickSize": -6, "labelPadding": 8, "labelExpr": "datum.value == 0.025 || datum.value == 0.075 ? '' : datum.label", "title": "Frequency", "titlePadding": 3}},
         "y": {"field": "p", "type": "quantitative", "scale": {"type": "log", "domain": [0.05, 50], "nice": false}, "axis": {"values": [0.05,0.06,0.07,0.08,0.09,0.1,0.2,0.3,0.4,0.5,0.6,0.7,0.8,0.9,1,2,3,4,5,6,7,8,9,10,20,30,40,50], "tickSize": {"condition": {"test": "abs(log(datum.value)/LN10 - round(log(datum.value)/LN10)) < 0.000001", "value": -6}, "value": -3}, "labelPadding": 10, "labelExpr": "abs(log(datum.value)/LN10 - round(log(datum.value)/LN10)) < 0.000001 ? datum.label : ''", "title": null}},
         "color": {"field": "series", "type": "nominal", "scale": {"domain": ["raw", "median", "90 %", "95 %", "99 %"], "range": ["#000000", "#ee2a24", "#6cbd45", "#3853a4", "#f5e614"]}, "legend": null}}},
      {"data": {"name": "F"}, "transform": [{"filter": "datum.raw != null"}],
       "mark": {"type": "line", "strokeWidth": 1.5, "interpolate": "monotone", "clip": true},
       "encoding": {"x": {"field": "f", "type": "quantitative", "axis": null}, "y": {"field": "raw", "type": "quantitative", "axis": null}, "color": {"datum": "raw", "type": "nominal", "legend": null}}},
      {"data": {"name": "ky"}, "transform": [{"filter": "datum.panel == 'F'"}],
       "mark": {"type": "text", "fontSize": 19, "color": "#231f20", "align": "center", "baseline": "middle"},
       "encoding": {"x": {"field": "f", "type": "quantitative", "axis": null}, "y": {"field": "p", "type": "quantitative", "axis": {"orient": "right", "values": [0.05,0.06,0.07,0.08,0.09,0.1,0.2,0.3,0.4,0.5,0.6,0.7,0.8,0.9,1,2,3,4,5,6,7,8,9,10,20,30,40,50], "tickSize": {"condition": {"test": "abs(log(datum.value)/LN10 - round(log(datum.value)/LN10)) < 0.000001", "value": -6}, "value": -3}, "labels": false, "title": null}}, "text": {"field": "label"}}},
      {"data": {"values": [{"t": "F"}]}, "mark": {"type": "text", "fontSize": 21, "fontWeight": "bold", "align": "left", "baseline": "alphabetic", "color": "#231f20"},
       "encoding": {"x": {"datum": -0.0088, "type": "quantitative", "axis": null}, "y": {"datum": 48.6, "type": "quantitative", "axis": null}, "text": {"field": "t"}}},
      {"data": {"values": [{"t": "C. pelagicus"}]}, "mark": {"type": "text", "fontSize": 24, "fontStyle": "italic", "align": "center", "baseline": "alphabetic", "color": "#231f20"},
       "encoding": {"x": {"datum": 0.0635, "type": "quantitative", "axis": null}, "y": {"datum": 60, "type": "quantitative", "axis": null}, "text": {"field": "t"}}}
     ]},
    {"width": 311, "height": 50, "view": {"stroke": null},
     "layer": [
      {"data": {"values": [{}]}, "mark": {"type": "rule", "color": "#ee2e24", "strokeWidth": 3, "strokeCap": "square"},
       "encoding": {"x": {"datum": -0.058, "type": "quantitative", "scale": {"domain": [0, 1], "nice": false, "zero": false}, "axis": null}, "x2": {"datum": 1.058}, "y": {"datum": 0.78, "type": "quantitative", "scale": {"domain": [0, 1], "nice": false, "zero": false}, "axis": null}}},
      {"data": {"values": [{}]}, "mark": {"type": "rule", "color": "#ee2e24", "strokeWidth": 3, "strokeCap": "square"},
       "encoding": {"x": {"datum": -0.058, "type": "quantitative", "axis": null}, "y": {"datum": 0.78, "type": "quantitative", "axis": null}, "y2": {"datum": 1.1}}},
      {"data": {"values": [{}]}, "mark": {"type": "rule", "color": "#ee2e24", "strokeWidth": 3, "strokeCap": "square"},
       "encoding": {"x": {"datum": 1.058, "type": "quantitative", "axis": null}, "y": {"datum": 0.78, "type": "quantitative", "axis": null}, "y2": {"datum": 1.1}}},
      {"data": {"values": [{"site": "WEP: ODP Site 806"}]}, "mark": {"type": "text", "fontSize": 25, "color": "#ee2e24", "align": "center", "baseline": "alphabetic"},
       "encoding": {"x": {"datum": 0.495, "type": "quantitative", "axis": null}, "y": {"datum": 0.08, "type": "quantitative", "axis": null}, "text": {"field": "site"}}}
     ]},
    {"width": 311, "height": 50, "view": {"stroke": null},
     "layer": [
      {"data": {"values": [{}]}, "mark": {"type": "rule", "color": "#45c2e9", "strokeWidth": 3, "strokeCap": "square"},
       "encoding": {"x": {"datum": -0.109, "type": "quantitative", "scale": {"domain": [0, 1], "nice": false, "zero": false}, "axis": null}, "x2": {"datum": 1.05}, "y": {"datum": 0.78, "type": "quantitative", "scale": {"domain": [0, 1], "nice": false, "zero": false}, "axis": null}}},
      {"data": {"values": [{}]}, "mark": {"type": "rule", "color": "#45c2e9", "strokeWidth": 3, "strokeCap": "square"},
       "encoding": {"x": {"datum": -0.109, "type": "quantitative", "axis": null}, "y": {"datum": 0.78, "type": "quantitative", "axis": null}, "y2": {"datum": 1.1}}},
      {"data": {"values": [{"site": "EEP: ODP Site 846"}]}, "mark": {"type": "text", "fontSize": 25, "color": "#45c2e9", "align": "center", "baseline": "alphabetic"},
       "encoding": {"x": {"datum": 0.415, "type": "quantitative", "axis": null}, "y": {"datum": 0.08, "type": "quantitative", "axis": null}, "text": {"field": "site"}}}
     ]}
]
}
